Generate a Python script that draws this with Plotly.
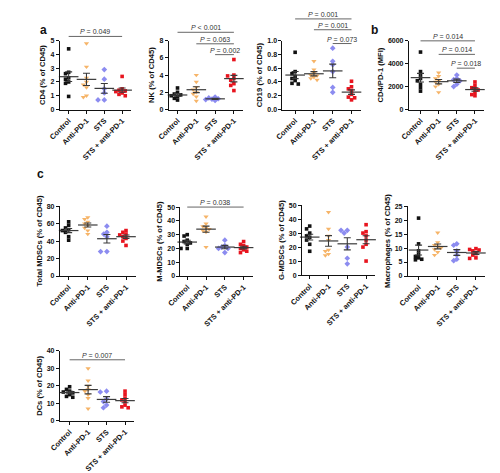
import plotly.graph_objects as go

# ---------------- data ----------------
groups = ["Control", "Anti-PD-1", "STS", "STS + anti-PD-1"]

cd4_values = [[4.4, 2.7, 2.6, 2.3, 2.2, 2.0, 1.9, 0.95],
              [4.8, 3.1, 2.3, 2.0, 1.8, 1.6, 1.0, 0.9],
              [2.9, 2.2, 1.5, 1.2, 0.7, 0.7],
              [2.4, 1.5, 1.4, 1.35, 1.3, 1.2, 1.1, 1.0]]
nk_values = [[2.5, 2.0, 1.8, 1.7, 1.6, 1.5, 1.3, 1.1],
             [4.0, 3.2, 2.6, 2.3, 2.0, 1.8, 1.5, 1.0],
             [1.45, 1.35, 1.25, 1.2, 1.15, 1.05],
             [5.8, 4.0, 3.9, 3.6, 3.4, 3.0, 2.8, 2.2]]
cd19_values = [[0.83, 0.55, 0.52, 0.48, 0.45, 0.42, 0.38, 0.37],
               [0.70, 0.58, 0.53, 0.50, 0.49, 0.47, 0.45, 0.43],
               [0.89, 0.70, 0.65, 0.55, 0.32, 0.25],
               [0.41, 0.33, 0.30, 0.27, 0.22, 0.18, 0.17, 0.14]]
cd4pd1_values = [[5000, 3300, 3000, 2700, 2500, 2200, 1900, 1600],
                 [3200, 2900, 2700, 2500, 2400, 2200, 2000, 1500],
                 [3000, 2700, 2600, 2500, 2200, 2000],
                 [2400, 2100, 1900, 1800, 1700, 1500, 1300, 1200]]
mdsc_values = [[62, 58, 55, 53, 52, 50, 45, 41],
               [67, 65, 62, 60, 58, 55, 52, 48],
               [57, 50, 48, 45, 28, 28],
               [52, 50, 48, 47, 45, 43, 40, 35]]
mmdsc_values = [[30, 29, 26, 25, 24, 23, 20, 20],
                [43, 38, 36, 35, 34, 33, 32, 21],
                [26, 22, 21, 20, 20, 17],
                [25, 23, 22, 21, 20, 19, 18, 17]]
gmdsc_values = [[35, 33, 30, 28, 27, 25, 22, 17],
                [45, 33, 28, 25, 18, 17, 15, 14],
                [32, 32, 30, 20, 12, 8],
                [36, 31, 30, 28, 25, 22, 20, 10]]
macro_values = [[20.7, 11.5, 9, 7.8, 7, 6.5, 6, 5.8],
                [15.5, 12, 11, 10.5, 10, 9.5, 8.5, 7.5],
                [11.5, 11, 9, 7.5, 6, 5.5],
                [9.8, 9.5, 9.3, 9, 8, 7.5, 6.5, 6.3]]
dc_values = [[19.5, 18, 17, 16.5, 16, 15, 14, 13.5],
             [30, 23, 20, 18, 17, 15, 13, 7],
             [17, 16.5, 12.5, 11, 9, 7.5],
             [17, 15, 13, 12, 11, 9, 8, 7.5]]

y_titles = ["CD4 (% of CD45)", "NK (% of CD45)", "CD19 (% of CD45)", "CD4/PD-1 (MFI)",
            "Total MDSCs (% of CD45)", "M-MDSCs (% of CD45)", "G-MDSCs (% of CD45)",
            "Macrophages (% of CD45)", "DCs (% of CD45)"]
y_max = [5, 8, 1.0, 6000, 80, 50, 50, 25, 40]
y_dtick = [1, 2, 0.2, 2000, 20, 10, 10, 5, 10]

cd4_p = [(0, 3, "P = 0.049")]
nk_p = [(0, 3, "P < 0.001"), (1, 3, "P = 0.063"), (2, 3, "P = 0.002")]
cd19_p = [(0, 3, "P = 0.001"), (1, 3, "P = 0.001"), (2, 3, "P = 0.073")]
cd4pd1_p = [(0, 3, "P = 0.014"), (1, 3, "P = 0.014"), (2, 3, "P = 0.018")]
mmdsc_p = [(0, 3, "P = 0.038")]
dc_p = [(0, 3, "P = 0.007")]

all_values = [cd4_values, nk_values, cd19_values, cd4pd1_values, mdsc_values,
              mmdsc_values, gmdsc_values, macro_values, dc_values]
all_p = [cd4_p, nk_p, cd19_p, cd4pd1_p, [], mmdsc_p, [], [], dc_p]

# ---------------- layout / style ----------------
W, H = 500, 473
# (axis px, first category px, last category px, top px, bottom px)
geom = [(39, 48, 103, 29, 99), (151, 160, 218, 29, 99), (268, 281, 339, 29, 99),
        (398, 410, 466, 29, 99), (39, 48, 107, 197, 268), (163, 170, 228, 198, 268),
        (288, 296, 354, 196, 267), (397, 408, 467, 197, 268), (39, 49, 106, 344, 415)]
# bracket heights as fraction of y domain
p_heights = [[1.06], [1.12, 0.953, 0.796], [1.314, 1.157, 0.957], [0.996, 0.8, 0.6],
             [], [1.0], [], [], [0.873]]

colors = ["#111111", "#F6B468", "#8C8CF0", "#E8141E"]
symbols = ["square", "triangle-down", "diamond", "square"]
msizes = [3.6, 4.6, 4.4, 3.6]
FONT = "Liberation Sans, Arial, sans-serif"
bar_col = "#3a3a3a"


def swarm(vals, ymax, h_px, sp_px, size_px):
    order = sorted(range(len(vals)), key=lambda i: -vals[i])
    placed = []
    offs = [0.0] * len(vals)
    for i in order:
        yp = vals[i] / ymax * h_px
        chosen = 0.0
        for k in [0, -1, 1, -2, 2, -3, 3]:
            xp = k * size_px * 0.95
            if all((xp - a) ** 2 + (yp - b) ** 2 >= size_px ** 2 for a, b in placed):
                chosen = xp
                break
        placed.append((chosen, yp))
        offs[i] = chosen / sp_px
    return offs


fig = go.Figure()
layout = dict(width=W, height=H, margin=dict(l=0, r=0, t=0, b=0),
              paper_bgcolor="white", plot_bgcolor="white", showlegend=False,
              font=dict(family=FONT, color="#111", size=7))
shapes = []
annotations = []

for p, vals in enumerate(all_values):
    ax_px, c0, c3, top, bot = geom[p]
    sp = (c3 - c0) / 3.0
    x0r = -(c0 - ax_px) / sp
    right = c3 + sp * 0.5
    h_px = bot - top
    suffix = "" if p == 0 else str(p + 1)
    xa, ya = "x" + suffix, "y" + suffix
    for g in range(4):
        v = vals[g]
        offs = swarm(v, y_max[p], h_px, sp, 3.4)
        fig.add_trace(go.Scatter(
            x=[g + o for o in offs], y=v, mode="markers", xaxis=xa, yaxis=ya,
            cliponaxis=False,
            marker=dict(symbol=symbols[g], size=msizes[g], color=colors[g], line=dict(width=0))))
        n = len(v)
        m = sum(v) / n
        sd = (sum((t - m) ** 2 for t in v) / (n - 1)) ** 0.5
        sem = sd / n ** 0.5
        fig.add_trace(go.Scatter(
            x=[g], y=[m], mode="markers", xaxis=xa, yaxis=ya, cliponaxis=False,
            marker=dict(symbol="line-ew", size=14, color=bar_col, line=dict(width=1.2, color=bar_col)),
            error_y=dict(type="data", array=[sem], color=bar_col, thickness=1.1, width=3.5)))
    layout["xaxis" + suffix] = dict(
        domain=[ax_px / W, right / W], range=[x0r, 3.5], anchor=ya,
        tickvals=[0, 1, 2, 3], ticktext=groups, tickangle=-45,
        showline=True, linecolor="#111", linewidth=1, ticks="outside", ticklen=3,
        tickcolor="#111", showgrid=False, zeroline=False,
        tickfont=dict(family=FONT, size=7.4, color="#111", weight="bold"))
    layout["yaxis" + suffix] = dict(
        domain=[1 - bot / H, 1 - top / H], range=[0, y_max[p]], anchor=xa,
        dtick=y_dtick[p], tick0=0, tickformat=".1f" if y_max[p] == 1.0 else "d",
        showline=True, linecolor="#111", linewidth=1, ticks="outside", ticklen=3,
        tickcolor="#111", showgrid=False, zeroline=False,
        tickfont=dict(family=FONT, size=7, color="#111", weight="bold"),
        title=dict(text=y_titles[p], standoff=3,
                   font=dict(family=FONT, size=7.6, color="#111", weight="bold")))
    for (a, b, lab), hy in zip(all_p[p], p_heights[p]):
        shapes.append(dict(type="line", xref=xa, yref=ya + " domain", x0=a, x1=b,
                           y0=hy, y1=hy, line=dict(color="#666", width=1)))
        annotations.append(dict(xref=xa, yref=ya + " domain", x=(a + b) / 2, y=hy,
                                yanchor="bottom", showarrow=False, yshift=-1,
                                text=lab.replace("P", "<i>P</i>", 1),
                                font=dict(family=FONT, size=7, color="#333")))

for letter, lx, ly in [("a", 16, 9), ("b", 368, 9), ("c", 13, 155)]:
    annotations.append(dict(xref="paper", yref="paper", x=lx / W, y=1 - ly / H,
                            text="<b>" + letter + "</b>", showarrow=False,
                            font=dict(family=FONT, size=12, color="#111")))

layout["shapes"] = shapes
layout["annotations"] = annotations
fig.update_layout(**layout)
fig.write_html("out.html")
